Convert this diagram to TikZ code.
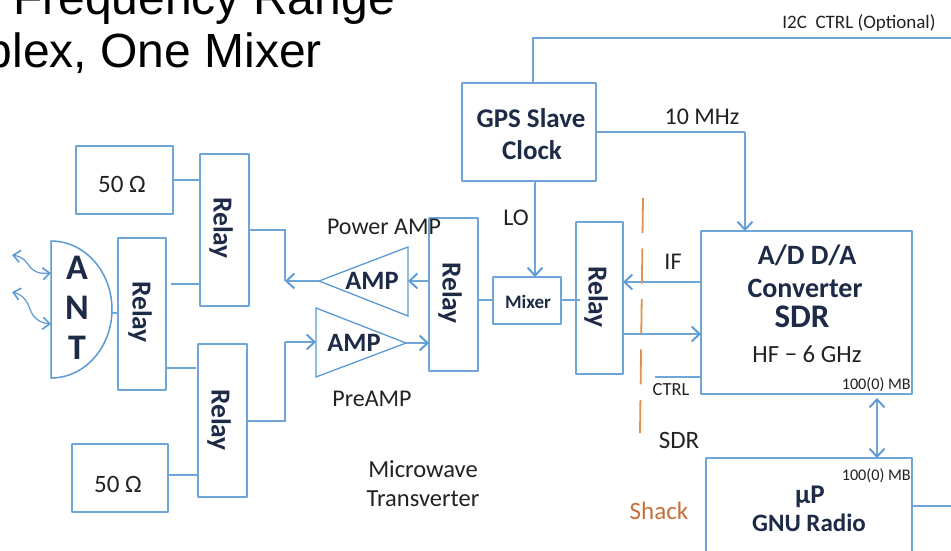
\documentclass[tikz,border=0pt]{standalone}
\usepackage{fontspec}
\setmainfont{Carlito}
\newfontfamily\arialf{Liberation Sans}
\usetikzlibrary{arrows.meta,calc}
\definecolor{lnblue}{HTML}{6FA5D8}
\definecolor{tipblue}{HTML}{5B9BD5}
\definecolor{navy}{HTML}{1E2B47}
\definecolor{txt}{HTML}{222222}
\definecolor{orng}{HTML}{E0914F}
\definecolor{shackc}{HTML}{C8703A}
\newcommand{\myfs}[1]{\fontsize{#1}{#1}\selectfont}
\tikzset{
  x=1pt,y=-1pt,
  bx/.style={draw=lnblue,line width=1.9pt,fill=white,inner sep=0pt,outer sep=0pt,rounded corners=0.5pt},
  wire/.style={draw=lnblue,line width=1.9pt},
  arr/.style={wire,-{Straight Barb[length=8pt,width=15pt,line width=1.9pt,color=tipblue]}},
  darr/.style={wire,{Straight Barb[length=8pt,width=15pt,line width=1.9pt,color=tipblue]}-{Straight Barb[length=8pt,width=15pt,line width=1.9pt,color=tipblue]}},
  squig/.style={draw=tipblue,line width=1.2pt,{Straight Barb[length=7pt,width=12pt,line width=1.6pt]}-{Straight Barb[length=7pt,width=12pt,line width=1.6pt]}},
  bold/.style={text=navy,font=\bfseries,inner sep=0pt},
  lab/.style={text=txt,inner sep=0pt},
  relaylab/.style={bold,rotate=-90,font=\bfseries\myfs{27.5}},
}
\newcommand{\rectbox}[5]{\node[bx,minimum width={(#4-#2)*1pt},minimum height={(#5-#3)*1pt}] (#1) at ({(#2+#4)/2},{(#3+#5)/2}) {};}
\begin{document}
\begin{tikzpicture}
\useasboundingbox (0,0) rectangle (951,551);
\clip (0,0) rectangle (951,551);
\fill[white] (0,0) rectangle (951,551);

% title
\node[anchor=base east,inner sep=0pt,font=\arialf\myfs{48}] (t1) at (395,15) {Frequency Range};
\node[anchor=base east,inner sep=0pt,font=\arialf\myfs{48}] (t2) at (322,67) {plex, One Mixer};

% boxes
\rectbox{loadA}{76}{146}{173}{214}
\rectbox{relA}{200}{154}{249}{306}
\rectbox{relC}{118}{238}{166}{390}
\rectbox{relB}{198}{344}{247}{497}
\rectbox{loadB}{72}{444}{168}{512}
\rectbox{relM}{429}{218}{478}{371}
\rectbox{mix}{493}{277}{561}{324}
\rectbox{relR}{576}{222}{623}{374}
\rectbox{gps}{462}{83}{596}{181}
\rectbox{sdr}{701}{231}{912}{394}
\rectbox{up}{706}{458}{912}{570}

% antenna half disc
\coordinate (antT) at (51,241);
\coordinate (antB) at (51,378);
\coordinate (antR) at (112,313);
\draw[draw=tipblue,line width=1.5pt] (antT) .. controls (85,241) and (112,272) .. (112,309.5) .. controls (112,347) and (85,378) .. (antB) -- cycle;

% amplifiers
\coordinate (paTip) at (319,281);
\coordinate (paTop) at (408,247);
\coordinate (paBot) at (408,316);
\draw[draw=tipblue,line width=1.3pt,line join=miter] (paTip) -- (paTop) -- (paBot) -- cycle;
\coordinate (preTip) at (406,343);
\coordinate (preTop) at (316,308);
\coordinate (preBot) at (316,377);
\draw[draw=tipblue,line width=1.3pt,line join=miter] (preTip) -- (preTop) -- (preBot) -- cycle;

% connectors, left side
\path[wire] (loadA.east |- 0,180) -- (relA.west |- 0,180);
\coordinate (gapA) at (171,284);
\path[wire] (gapA) -- (relA.west |- gapA);
\coordinate (gapB) at (171,368);
\path[wire] (relC.east |- gapB) -- (196,368);
\path[wire] (loadB.east |- 0,475) -- (relB.west |- 0,475);
\path[wire] (antR) -- (relC.west |- antR);
\coordinate (jA) at (285,230);
\coordinate (jB) at (285,281);
\path[wire] (relA.east |- jA) -- (jA) -- (jB);
\path[arr] (paTip) -- (jB);
\path[arr] (relM.west |- paTip) -- (paBot |- paTip);
\coordinate (jC) at (285,421);
\coordinate (jD) at (285,342);
\path[wire] (relB.east |- jC) -- (jC) -- (jD);
\path[arr] (jD) -- (preTop |- jD);
\path[arr] (preTip) -- (relM.west |- preTip);
\path[wire] (relM.east |- 0,300) -- (mix.west |- 0,300);
\coordinate (mixEnd) at (580,300);
\path[wire] (mix.east |- mixEnd) -- (mixEnd);

% connectors, right side
\coordinate (i2cA) at (533,38);
\coordinate (i2cB) at (951,38);
\path[wire] (gps.north -| i2cA) -- (i2cA) -- (i2cB);
\coordinate (tenA) at (745,132);
\path[wire] (gps.east |- tenA) -- (tenA);
\path[arr] (tenA) -- (sdr.north -| tenA);
\path[arr] (gps.south -| 535,0) -- (mix.north -| 535,0);
\path[arr] (sdr.west |- 0,282) -- (relR.east |- 0,282);
\path[arr] (relR.east |- 0,334) -- (sdr.west |- 0,334);
\coordinate (ctrlE) at (655,377);
\path[wire] (ctrlE) -- (sdr.west |- ctrlE);
\path[darr] ($(sdr.south -| 877,0)+(0,4)$) -- (up.north -| 877,0);
\coordinate (upE) at (951,506);
\path[wire] (up.east |- upE) -- (upE);

% shack boundary
\coordinate (shA) at (643,198);
\coordinate (shB) at (640,433);
\draw[orng,line width=1.8pt,dash pattern=on 35pt off 15.5pt] (shA) -- (shB);

% squiggles
\coordinate (sa) at (12,255);
\coordinate (sb) at (51,273);
\coordinate (sc) at (12,292);
\coordinate (sd) at (51,324);
\path[squig] (sa) .. controls (24,257) and (27,263) .. (30,267) .. controls (34,272) and (40,274) .. (sb);
\path[squig] (sc) .. controls (24,295) and (28,303) .. (30,309) .. controls (33,318) and (40,323) .. (sd);

% labels in bold
\node[relaylab] (lA) at (221,228) {Relay};
\node[relaylab] (lC) at (140,312) {Relay};
\node[relaylab] (lB) at (219,420) {Relay};
\node[relaylab] (lM) at (450,293) {Relay};
\node[relaylab] (lR) at (596,297) {Relay};
\node[bold,font=\bfseries\myfs{36}] (aA) at (77,268) {A};
\node[bold,font=\bfseries\myfs{36}] (aN) at (77,308) {N};
\node[bold,font=\bfseries\myfs{36}] (aT) at (77,348) {T};
\node[bold,font=\bfseries\myfs{26.5}] (ampP) at (372,281) {AMP};
\node[bold,font=\bfseries\myfs{26.5}] (ampQ) at (354,343) {AMP};
\node[bold,font=\bfseries\myfs{19}] (mixL) at (528,302) {Mixer};
\node[bold,font=\bfseries\myfs{27}] (g1) at (531,118) {GPS Slave};
\node[bold,font=\bfseries\myfs{27}] (g2) at (532,150) {Clock};
\node[bold,font=\bfseries\myfs{28}] (s1) at (807,255) {A/D D/A};
\node[bold,font=\bfseries\myfs{28}] (s2) at (805,288) {Converter};
\node[bold,font=\bfseries\myfs{33}] (s3) at (802,317) {SDR};
\node[bold,font=\bfseries\myfs{27}] (u1) at (810,497) {µP};
\node[bold,font=\bfseries\myfs{25}] (u2) at (809,523) {GNU Radio};

% plain labels
\node[lab,font=\myfs{25}] (l50a) at (122,184) {50 Ω};
\node[lab,font=\myfs{25}] (l50b) at (118,484) {50 Ω};
\node[lab,font=\myfs{24}] (pwr) at (384,227) {Power AMP};
\node[lab,font=\myfs{24}] (pre) at (372,399) {PreAMP};
\node[lab,font=\myfs{24}] (lo) at (516,218) {LO};
\node[lab,font=\myfs{24}] (ten) at (702,117) {10 MHz};
\node[lab,font=\myfs{19}] (i2c) at (859,23) {I2C\ \ CTRL (Optional)};
\node[lab,font=\myfs{24}] (if) at (673,262) {IF};
\node[lab,font=\myfs{18.5}] (ctl) at (671,390) {CTRL};
\node[lab,font=\myfs{25}] (sdrl) at (679,440) {SDR};
\node[lab,font=\myfs{24.7}] (hf) at (807,354) {HF − 6 GHz};
\node[lab,font=\myfs{16.2},anchor=east] (m1) at (911,385) {100(0) MB};
\node[lab,font=\myfs{16.2},anchor=east] (m2) at (911,476) {100(0) MB};
\node[text=shackc,inner sep=0pt,font=\myfs{25}] (sh) at (659,511) {Shack};
\node[lab,font=\myfs{24.5},align=center,text width=130pt] (mw) at (423,484) {Microwave\\[4.5pt]Transverter};
\end{tikzpicture}
\end{document}
